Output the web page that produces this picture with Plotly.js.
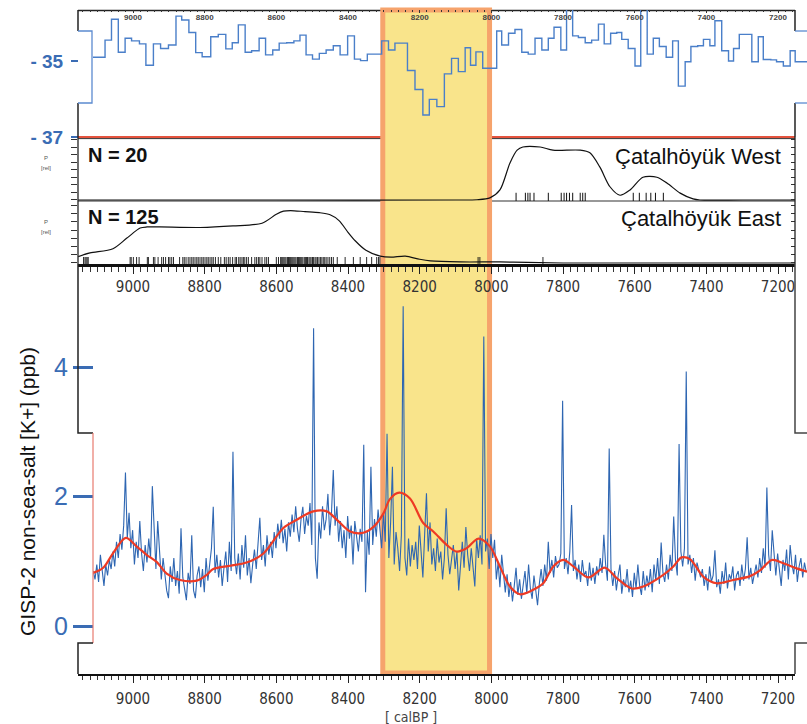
<!DOCTYPE html>
<html><head><meta charset="utf-8">
<script src="https://cdn.plot.ly/plotly-3.0.1.min.js"></script>
<style>html,body{margin:0;padding:0;background:#fff}</style>
</head><body><div id="chart" style="width:807px;height:724px"></div>
<script>
// ---------- DATA ----------
// GISP-2 delta18O (step series): step start years (calBP) and values (permil)
const d18oYears = [9115,9097,9078,9060,9041,9022,9004,8982,8964,8943,
 8923,8901,8880,8864,8844,8825,8807,8783,8762,8741,
 8723,8706,8687,8669,8648,8630,8610,8592,8571,8551,
 8534,8517,8499,8480,8461,8441,8422,8401,8382,8365,
 8346,8327,8306,8287,8269,8252,8234,8213,8191,8173,
 8152,8131,8111,8092,8073,8058,8043,8024,8005,7985,
 7971,7952,7934,7915,7897,7878,7859,7841,7825,7806,
 7790,7773,7757,7738,7720,7701,7685,7667,7650,7636,
 7618,7599,7583,7565,7548,7531,7512,7494,7478,7459,
 7443,7424,7408,7390,7376,7357,7338,7324,7308,7291,
 7273,7255,7241,7220,7204,7185,7166,7152,7136,7119];
const d18oValues = [-34.90,-34.90,-34.45,-33.90,-34.77,-34.40,-34.47,-34.55,-35.11,-34.55,
 -34.67,-34.58,-33.82,-33.92,-34.25,-34.78,-34.89,-34.36,-34.30,-34.68,
 -34.52,-34.05,-34.77,-34.73,-34.40,-34.84,-34.71,-34.53,-34.52,-34.47,
 -34.32,-34.84,-34.95,-34.80,-34.71,-34.60,-34.84,-34.34,-34.95,-34.99,
 -34.82,-34.82,-34.47,-34.71,-34.53,-34.53,-35.25,-35.75,-36.42,-36.01,
 -36.20,-35.34,-34.93,-35.28,-34.65,-35.11,-34.76,-35.19,-35.19,-34.21,
 -34.58,-34.27,-34.17,-34.77,-34.82,-34.40,-34.71,-34.40,-34.11,-34.71,
 -33.60,-34.34,-34.38,-34.52,-34.45,-34.03,-34.55,-34.27,-34.25,-34.43,
 -34.67,-35.13,-33.60,-34.82,-34.40,-34.62,-34.90,-34.47,-35.66,-35.02,
 -34.62,-34.60,-34.43,-34.60,-33.94,-34.73,-35.00,-34.67,-34.30,-34.30,
 -35.02,-34.36,-34.96,-34.97,-35.02,-35.13,-34.73,-35.02,-35.02,-35.02];
const d18oTicks = [-35, -37];
const d18oTickText = ['- 35', '- 37'];

// Summed probability (relative) of 14C dates, Çatalhöyük West (N = 20)
const westYears  = [9153,8600,8100,8040,8004,7976,7948,7928,7912,7864,7828,7752,7725,7697,7669,7641,7613,7577,7538,7510,7473,7437,7418,7300,7153];
const westProb   = [0,0,0,0.005,0.04,0.19,0.70,0.94,1.0,1.0,0.94,0.94,0.89,0.62,0.25,0.09,0.19,0.43,0.43,0.32,0.13,0.02,0,0,0];
const westDates  = [7931,7905,7898,7892,7881,7841,7805,7797,7790,7782,7773,7752,7745,7738,7604,7587,7568,7555,7542,7520];

// Çatalhöyük East (N = 125)
const eastYears  = [9153,9120,9056,9017,8980,8961,8925,8813,8721,8640,8600,8580,8560,8520,8480,8450,8425,8400,8380,8350,8310,8280,8240,8200,8170,8087,7976,7900,7800,7153];
const eastProb   = [0.12,0.19,0.27,0.47,0.66,0.68,0.68,0.67,0.70,0.75,0.92,0.98,0.99,0.97,0.95,0.91,0.80,0.58,0.42,0.24,0.13,0.11,0.13,0.07,0.04,0.02,0.02,0.01,0,0];
const eastDates  = [9138,9134,9131,9128,9125,9008,9005,8999,8990,8983,8960,8957,8943,8939,8930,8920,8915,8909,8901,8897,8892,8887,8870,
 8861,8857,8852,8846,8841,8836,8832,8827,8822,8818,8813,8808,8804,8799,8794,8790,8785,8780,8776,8770,8762,8755,8745,8740,
 8734,8729,8722,8715,8711,8705,8701,8696,8692,8688,8683,8678,8669,8660,8655,8650,8646,8640,8632,8627,8622,8600,8594,
 8588,8585,8582,8579,8576,8573,8569,8566,8563,8560,8557,8554,8551,8548,8545,8541,8538,8535,8532,8529,8526,8522,8519,8516,
 8513,8509,8506,8503,8499,8496,8492,8489,8485,8481,8477,8473,8469,8465,8461,8456,8451,8446,8441,
 8430,8408,8385,8366,8348,8334,8320,8315,8311,8037,8032,7856];

// GISP-2 non-sea-salt K+ (ppb), 5-year spacing starting 9111 calBP
const kStartYear = 9111;
const kStep = -5;
const kValues = [
 0.85,0.72,0.95,0.68,1.10,0.80,0.62,0.95,0.78,1.02,
 0.88,1.15,0.92,1.30,1.05,1.42,1.18,1.55,2.37,1.35,
 1.75,1.20,1.48,0.95,1.30,1.05,1.62,1.12,0.85,1.25,
 0.98,1.35,1.05,2.16,1.40,0.88,1.62,1.10,0.72,1.05,
 0.80,0.55,0.43,0.92,0.68,1.05,0.62,0.85,0.50,1.51,
 0.75,0.58,0.40,0.82,0.65,1.40,0.55,0.43,0.78,0.92,
 0.60,0.88,0.52,1.05,0.70,0.95,1.20,1.84,0.82,1.10,
 0.75,1.02,0.62,0.90,1.15,0.68,1.30,0.85,2.69,1.05,
 0.80,1.12,0.72,1.25,0.90,1.40,0.78,1.05,0.66,0.95,
 1.18,0.88,1.35,1.67,1.02,1.25,0.92,1.40,1.10,1.30,
 1.05,1.45,1.20,1.58,1.35,1.64,1.28,1.50,1.15,1.60,
 1.38,1.72,1.45,1.85,1.50,1.30,1.65,1.84,1.42,1.70,
 1.55,1.90,1.25,4.60,1.05,0.73,1.60,1.35,1.85,1.48,
 1.65,2.04,1.40,1.75,2.41,1.55,1.85,1.30,1.62,1.20,
 1.48,1.05,1.70,1.35,1.55,0.95,1.62,1.38,1.15,1.50,
 1.30,2.80,0.52,1.45,1.10,2.46,1.25,1.65,1.38,1.80,
 1.55,1.20,1.75,1.30,2.97,1.05,1.60,2.46,0.95,1.45,
 1.20,0.85,1.40,4.94,1.05,0.78,1.35,0.92,1.25,1.02,
 1.30,0.88,1.55,1.10,0.75,1.42,2.05,1.15,1.60,0.95,
 1.20,0.85,1.35,0.98,1.15,0.72,1.05,1.82,1.10,0.80,
 1.05,1.25,0.88,1.15,0.55,1.02,1.30,0.90,1.53,1.10,
 0.85,1.20,0.92,0.61,1.35,1.05,1.40,0.95,4.47,1.15,
 1.35,0.88,1.42,1.05,1.33,0.72,0.98,0.60,1.10,0.75,
 0.52,0.80,0.45,0.68,0.38,0.62,0.90,0.48,0.72,0.42,
 0.60,0.85,0.50,0.95,0.58,0.42,0.78,0.55,0.32,0.65,
 0.88,0.62,0.95,0.70,1.30,0.82,1.02,0.75,1.08,0.90,
 0.95,1.12,3.48,0.88,1.05,0.80,1.15,1.87,0.85,1.02,
 0.72,0.95,0.68,1.02,0.78,0.85,0.62,0.98,0.70,0.90,
 0.65,0.92,0.78,1.05,0.82,1.41,0.95,0.70,2.74,0.88,
 0.62,0.85,0.55,0.78,0.95,0.50,0.72,0.60,0.88,0.52,
 0.70,0.45,0.82,0.58,0.95,0.62,0.48,0.85,0.55,0.78,
 0.60,0.88,0.52,0.95,0.70,1.05,0.65,1.29,0.82,0.68,
 0.95,0.72,1.10,0.85,1.69,1.02,0.78,2.81,1.15,0.92,
 1.20,3.93,0.95,1.10,0.82,1.05,0.70,0.98,0.85,0.75,
 0.88,0.62,0.80,0.55,0.92,0.68,0.78,1.17,0.60,0.72,
 0.50,0.85,0.65,0.98,0.58,0.80,0.72,0.92,0.55,0.78,
 0.85,0.62,0.95,0.70,0.88,1.37,0.72,0.90,0.65,0.82,
 0.95,0.75,1.05,0.82,1.20,0.90,2.14,1.10,0.85,1.48,
 1.05,0.78,1.12,0.90,0.62,1.02,0.85,1.18,0.72,1.25,
 0.95,0.80,1.10,0.68,0.92,1.05,0.75,0.98,0.83];

// Smoothed K+ curve
const smoothYears = [9111,9083,9055,9020,8990,8962,8934,8906,8869,8822,8794,8776,8729,8683,8636,8581,8543,8497,8459,8431,8394,8357,8329,8301,8283,8257,8227,8190,8162,8124,8097,8069,8036,8004,7976,7948,7920,7883,7855,7827,7799,7771,7729,7683,7650,7608,7576,7520,7492,7469,7445,7408,7371,7325,7278,7250,7217,7185,7148,7119];
const smoothK     = [0.82,0.90,1.13,1.36,1.23,1.10,0.99,0.81,0.71,0.70,0.79,0.88,0.93,0.98,1.12,1.51,1.64,1.77,1.77,1.64,1.46,1.44,1.53,1.74,1.96,2.06,1.97,1.59,1.46,1.25,1.15,1.20,1.35,1.23,0.92,0.61,0.49,0.56,0.66,0.92,1.02,0.92,0.75,0.90,0.74,0.58,0.61,0.79,0.92,1.06,1.03,0.76,0.66,0.71,0.77,0.86,1.02,0.97,0.89,0.84];
const kTicks = [0, 2, 4];

// Highlighted interval (8.2 ka event)
const eventStart = 8303, eventEnd = 8005;

// ---------- LAYOUT HELPERS ----------
const W = 807, H = 724;
const X = v => v / W, Y = v => 1 - v / H;
const BLUE = '#3a6cb4', DARK = '#222';
const SANS = 'Liberation Sans, Arial, sans-serif';
const narrow = 'Liberation Sans Narrow, DejaVu Sans Condensed, Liberation Sans, Arial, sans-serif';
const yrRange = [9153.5, 7152.6];          // visible axes 78..795 px
const ovRange = [9111.6, 7119.0];          // overlay data 93..807 px

function line(x0, y0, x1, y1, color, width, layer) {
  return {type:'line', xref:'paper', yref:'paper', x0:X(x0), y0:Y(y0), x1:X(x1), y1:Y(y1),
          line:{color:color, width:width}, layer: layer || 'above'};
}
function path(pts, color, width, layer) {
  const d = pts.map((p, i) => (i ? 'L' : 'M') + X(p[0]).toFixed(5) + ',' + Y(p[1]).toFixed(5)).join(' ');
  return {type:'path', xref:'paper', yref:'paper', path:d, line:{color:color, width:width}, layer: layer || 'above'};
}
function note(text, x, y, size, opts) {
  return Object.assign({text:text, x:X(x), y:Y(y), xref:'paper', yref:'paper', showarrow:false,
    xanchor:'center', yanchor:'middle', font:{family:SANS, size:size, color:'#111'}}, opts || {});
}

// ---------- TRACES ----------
const traces = [
  // empty traces that register the axis-only subplots
  {type:'scatter', mode:'lines', x:[], y:[], xaxis:'x', yaxis:'y', hoverinfo:'skip'},
  {type:'scatter', mode:'lines', x:[], y:[], xaxis:'x4', yaxis:'y2', hoverinfo:'skip'},
  {type:'scatter', mode:'lines', x:d18oYears, y:d18oValues, xaxis:'x2', yaxis:'y2',
   line:{color:'#4a7fc9', width:1.4, shape:'hv'}, hoverinfo:'skip'},
  {type:'scatter', mode:'lines', x0:kStartYear, dx:kStep, y:kValues, xaxis:'x2', yaxis:'y',
   line:{color:'#2e66b2', width:1.1}, hoverinfo:'skip'},
  {type:'scatter', mode:'lines', x:smoothYears, y:smoothK, xaxis:'x2', yaxis:'y',
   line:{color:'#ee3a24', width:2.2, shape:'spline', smoothing:0.9}, hoverinfo:'skip'},
  {type:'scatter', mode:'lines', x:westYears, y:westProb, xaxis:'x3', yaxis:'y3',
   line:{color:'#111', width:1.2, shape:'spline', smoothing:0.8}, hoverinfo:'skip'},
  {type:'scatter', mode:'markers', x:westDates, y:westDates.map(() => 0.057), xaxis:'x3', yaxis:'y5',
   marker:{symbol:'line-ns', size:6, line:{color:'#111', width:1}}, hoverinfo:'skip'},
  {type:'scatter', mode:'lines', x:eastYears, y:eastProb, xaxis:'x3', yaxis:'y4',
   line:{color:'#111', width:1.2, shape:'spline', smoothing:0.8}, hoverinfo:'skip'},
  {type:'scatter', mode:'markers', x:eastDates, y:eastDates.map(() => 0.047), xaxis:'x3', yaxis:'y6',
   marker:{symbol:'line-ns', size:5, line:{color:'#111', width:0.9}}, hoverinfo:'skip'}
];

// ---------- AXES ----------
const xTickBase = {tickmode:'linear', tick0:0, dtick:200, showgrid:false, zeroline:false};
const layout = {
  width:W, height:H, autosize:false,
  margin:{l:0, r:0, t:0, b:0, pad:0},
  paper_bgcolor:'#ffffff', plot_bgcolor:'rgba(0,0,0,0)',
  showlegend:false, hovermode:false,
  font:{family:SANS, color:DARK},
  // main bottom axis
  xaxis: Object.assign({}, xTickBase, {domain:[X(78), X(795)], range:yrRange, anchor:'y', side:'bottom',
    showline:true, linecolor:'#111', linewidth:2, ticks:'outside', ticklen:7, tickwidth:1, tickcolor:'#222',
    minor:{ticks:'outside', ticklen:4, dtick:20, tick0:0, tickcolor:'#333', tickwidth:1},
    tickfont:{family:narrow, size:15, color:'#333'}, ticklabelstandoff:3}),
  // overlay axis for ice-core data
  xaxis2: {domain:[X(93), 1], range:ovRange, anchor:'y', visible:false},
  // archaeology panels axis (drawn under East panel)
  xaxis3: Object.assign({}, xTickBase, {domain:[X(78), X(795)], range:yrRange, anchor:'y4', side:'bottom',
    showline:true, linecolor:'#111', linewidth:2.5, ticks:'outside', ticklen:7, tickwidth:1, tickcolor:'#222',
    minor:{ticks:'outside', ticklen:5, dtick:20, tick0:0, tickcolor:'#333', tickwidth:1},
    tickfont:{family:narrow, size:15, color:'#333'}}),
  // top panel axis
  xaxis4: Object.assign({}, xTickBase, {domain:[X(78), X(795)], range:yrRange, anchor:'y2', side:'top',
    showline:false, ticks:'inside', ticklen:3, tickwidth:1, tickcolor:'#333',
    minor:{ticks:'inside', ticklen:2, dtick:20, tick0:0, tickcolor:'#333', tickwidth:1},
    ticklabelposition:'inside', tickfont:{family:SANS, size:8, color:'#444', weight:'bold'}}),
  // K+ axis
  yaxis: {domain:[Y(674), Y(264)], range:[-0.7413, 5.5907], anchor:'free', position:X(93),
    tickmode:'array', tickvals:kTicks, ticks:'outside', ticklen:20, tickwidth:3, tickcolor:BLUE,
    tickfont:{family:SANS, size:25, color:BLUE}, showline:false, showgrid:false, zeroline:false},
  // d18O axis
  yaxis2: {domain:[Y(137), Y(10)], range:[-37, -33.658], anchor:'free', position:X(78),
    tickmode:'array', tickvals:d18oTicks, ticktext:d18oTickText, ticks:'outside', ticklen:7, tickwidth:2, tickcolor:BLUE,
    tickfont:{family:SANS, size:19, color:BLUE, weight:'bold'}, ticklabelstandoff:4, showline:false, showgrid:false, zeroline:false},
  // West panel
  yaxis3: {domain:[Y(201), Y(137)], range:[-0.019, 1.189], anchor:'x3', side:'left',
    tickmode:'linear', tick0:0, dtick:0.142, ticks:'outside', ticklen:6, tickcolor:'#333',
    showticklabels:false, showline:false, showgrid:false, zeroline:false},
  yaxis5: {domain:[Y(201), Y(137)], range:[-0.019, 1.189], anchor:'x3', side:'right', overlaying:'y3',
    tickmode:'linear', tick0:0, dtick:0.142, ticks:'inside', ticklen:4, tickcolor:'#333',
    showticklabels:false, showline:false, showgrid:false, zeroline:false},
  // East panel
  yaxis4: {domain:[Y(264), Y(201)], range:[-0.019, 1.17], anchor:'x3', side:'left',
    tickmode:'linear', tick0:0, dtick:0.155, ticks:'outside', ticklen:6, tickcolor:'#333',
    showticklabels:false, showline:false, showgrid:false, zeroline:false},
  yaxis6: {domain:[Y(264), Y(201)], range:[-0.019, 1.17], anchor:'x3', side:'right', overlaying:'y4',
    tickmode:'linear', tick0:0, dtick:0.155, ticks:'inside', ticklen:4, tickcolor:'#333',
    showticklabels:false, showline:false, showgrid:false, zeroline:false},
  shapes: [
    // panel separators (under the highlight)
    line(78, 10.5, 795, 10.5, '#222', 1.6, 'below'),
    line(78, 137, 795, 137, '#e4533e', 2, 'below'),
    line(78, 138.6, 795, 138.6, '#333', 1, 'below'),
    line(78, 201, 795, 201, '#333', 1.2, 'below'),
    // highlighted interval
    {type:'rect', xref:'x3', yref:'paper', x0:eventStart, x1:eventEnd, y0:Y(673), y1:Y(10),
     fillcolor:'#f9e48b', line:{color:'#f6a36c', width:5}, layer:'below'},
    // top panel frame
    path([[78,10],[78,31]], '#222', 1.5),
    path([[78,103],[78,137]], '#222', 1.5),
    path([[78,31],[92,31],[92,103],[78,103]], '#5b8ad0', 1.3),
    path([[795,10],[795,31]], '#222', 1.5),
    path([[795,103],[795,137]], '#222', 1.5),
    path([[795,31],[807,31]], '#5b8ad0', 1.3),
    path([[795,103],[807,103]], '#5b8ad0', 1.3),
    // West/East frame
    path([[78,137],[78,264]], '#222', 1.3),
    path([[795,137],[795,264]], '#222', 1.3),
    // main panel frame
    path([[78,264],[78,433],[93,433]], '#222', 1.5),
    path([[93,433],[93,643]], '#e87a6e', 1.2),
    path([[93,643],[78,643],[78,674]], '#222', 1.5),
    path([[795,264],[795,433],[807,433]], '#444', 1.5),
    path([[807,643],[795,643],[795,674]], '#444', 1.5)
  ],
  annotations: [
    note('<b>N = 20</b>', 86, 155, 20, {xanchor:'left'}),
    note('<b>N = 125</b>', 86, 217, 20, {xanchor:'left'}),
    note('Çatalhöyük West', 783, 156, 22, {xanchor:'right'}),
    note('Çatalhöyük East', 783, 218, 22, {xanchor:'right'}),
    note('P', 46, 158, 6, {font:{family:SANS, size:6, color:'#555'}}),
    note('[rel]', 46, 168, 6, {font:{family:SANS, size:6, color:'#555'}}),
    note('P', 46, 222, 6, {font:{family:SANS, size:6, color:'#555'}}),
    note('[rel]', 46, 232, 6, {font:{family:SANS, size:6, color:'#555'}}),
    note('GISP-2 non-sea-salt [K+] (ppb)', 27, 492, 21, {textangle:-90}),
    note('[ calBP ]', 411, 717, 14, {font:{family:narrow, size:14, color:'#444'}})
  ]
};

Plotly.newPlot('chart', traces, layout, {staticPlot:true, displayModeBar:false});
</script></body></html>
